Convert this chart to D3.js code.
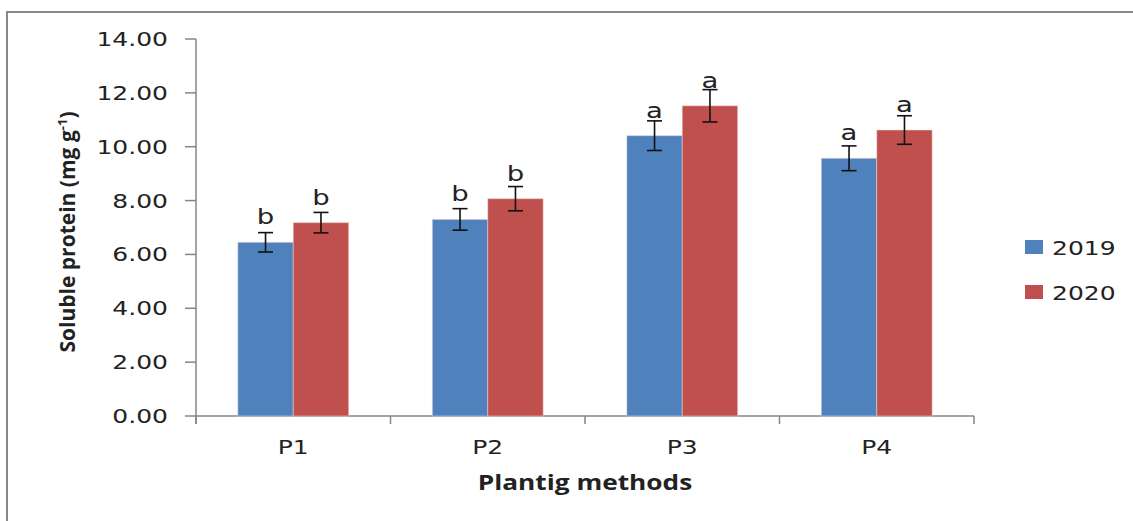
<!DOCTYPE html>
<html>
<head>
<meta charset="utf-8">
<script src="https://cdn.jsdelivr.net/npm/d3@7"></script>
<style>
  body { margin: 0; background: #fff; }
  svg { display: block; }
</style>
</head>
<body>
<div class="board"></div>
<script>
// data
var methods = ['P1', 'P2', 'P3', 'P4'];
var years = ['2019', '2020'];
var values2019 = [6.45, 7.30, 10.41, 9.57];
var values2020 = [7.18, 8.07, 11.52, 10.62];
var err2019 = [0.36, 0.40, 0.55, 0.46];
var err2020 = [0.38, 0.45, 0.60, 0.53];
var letters2019 = ['b', 'b', 'a', 'a'];
var letters2020 = ['b', 'b', 'a', 'a'];
var yTicks = [0, 2, 4, 6, 8, 10, 12, 14];
var colors = ['#4F81BD', '#C0504D'];

var W = 1133, H = 521;
var stretch = 1.25; // the original picture is a bit wide

var svg = d3.select('.board').append('svg').attr('width', W).attr('height', H);

// outer frame
svg.append('rect')
    .attr('x', 7).attr('y', 12)
    .attr('width', 1160).attr('height', 600)
    .attr('fill', 'none')
    .attr('stroke', '#878787')
    .attr('stroke-width', 2);

// note: "top" is taken by window.top, so use other names
var plotLeft = 196, plotRight = 974, plotTop = 39, plotBottom = 416;

var x = d3.scaleBand().domain(methods).range([plotLeft, plotRight]).paddingInner(0.43).paddingOuter(0.215);
var xs = d3.scaleBand().domain(years).range([0, x.bandwidth()]);
var y = d3.scaleLinear().domain([0, 14]).range([plotBottom, plotTop]);

// helper for the stretched text
function txt(g, px, py, s, opts) {
  return g.append('text')
    .attr('transform', 'translate(' + px + ',' + py + ') scale(' + stretch + ',1)')
    .attr('text-anchor', opts.anchor || 'middle')
    .attr('font-family', opts.family || 'DejaVu Sans')
    .attr('font-size', opts.size || 20)
    .attr('font-weight', opts.weight || 'normal')
    .attr('fill', '#222')
    .text(s);
}

// y axis
svg.append('line')
    .attr('x1', plotLeft).attr('x2', plotLeft)
    .attr('y1', y(14)).attr('y2', plotBottom + 8)
    .attr('stroke', '#868686').attr('stroke-width', 1.5);

yTicks.forEach(function(t) {
  svg.append('line')
      .attr('x1', plotLeft - 11).attr('x2', plotLeft)
      .attr('y1', y(t)).attr('y2', y(t))
      .attr('stroke', '#868686').attr('stroke-width', 1.5);
  txt(svg, plotLeft - 28, y(t) + 7, d3.format('.2f')(t), {anchor: 'end'});
});

// x axis
svg.append('line')
    .attr('x1', plotLeft).attr('x2', plotRight)
    .attr('y1', plotBottom).attr('y2', plotBottom)
    .attr('stroke', '#868686').attr('stroke-width', 1.5);

var bounds = [plotLeft].concat(methods.map(function(m) { return x(m) + x.bandwidth() + x.step() * x.paddingInner() / 2; }));
bounds[bounds.length - 1] = plotRight;
bounds.forEach(function(b) {
  svg.append('line')
      .attr('x1', b).attr('x2', b)
      .attr('y1', plotBottom).attr('y2', plotBottom + 8)
      .attr('stroke', '#868686').attr('stroke-width', 1.5);
});

methods.forEach(function(m) {
  txt(svg, x(m) + x.bandwidth() / 2, 454, m, {});
});

// bars
var series = [
  {year: years[0], vals: values2019, errs: err2019, lets: letters2019, color: colors[0]},
  {year: years[1], vals: values2020, errs: err2020, lets: letters2020, color: colors[1]}
];

series.forEach(function(s) {
  var g = svg.append('g');
  g.selectAll('rect')
      .data(methods)
      .enter()
      .append('rect')
      .attr('x', function(m) { return x(m) + xs(s.year); })
      .attr('y', function(m, i) { return y(s.vals[i]); })
      .attr('width', xs.bandwidth())
      .attr('height', function(m, i) { return plotBottom - y(s.vals[i]); })
      .attr('fill', s.color)
      .attr('stroke', '#f2dcdb')
      .attr('stroke-opacity', 0.5)
      .attr('stroke-width', 1);
});

// error bars + letters on top
series.forEach(function(s) {
  methods.forEach(function(m, i) {
    var cx = x(m) + xs(s.year) + xs.bandwidth() / 2;
    var hi = y(s.vals[i] + s.errs[i]), lo = y(s.vals[i] - s.errs[i]);
    svg.append('line').attr('x1', cx).attr('x2', cx).attr('y1', hi).attr('y2', lo)
        .attr('stroke', '#111').attr('stroke-width', 1.6);
    [hi, lo].forEach(function(v) {
      svg.append('line').attr('x1', cx - 7.5).attr('x2', cx + 7.5).attr('y1', v).attr('y2', v)
          .attr('stroke', '#111').attr('stroke-width', 1.6);
    });
    txt(svg, cx, y(s.vals[i]) - 18, s.lets[i], {size: 22});
  });
});

// axis titles
txt(svg, (plotLeft + plotRight) / 2, 490, 'Plantig methods', {family: 'Open Sans', weight: 'bold', size: 21});

var yt = svg.append('text')
    .attr('transform', 'translate(75,232) rotate(-90)')
    .attr('text-anchor', 'middle')
    .attr('font-family', 'Open Sans')
    .attr('font-weight', 'bold')
    .attr('font-size', 21)
    .attr('fill', '#222');
yt.append('tspan').text('Soluble protein (mg g');
yt.append('tspan').attr('font-size', 13).attr('dy', -8).text('-1');
yt.append('tspan').attr('dy', 8).text(')');

// legend
series.forEach(function(s, i) {
  var ly = 240 + i * 45;
  svg.append('rect')
      .attr('x', 1025).attr('y', ly)
      .attr('width', 18).attr('height', 14)
      .attr('fill', s.color);
  txt(svg, 1052, ly + 15, s.year, {anchor: 'start'});
});
</script>
</body>
</html>
